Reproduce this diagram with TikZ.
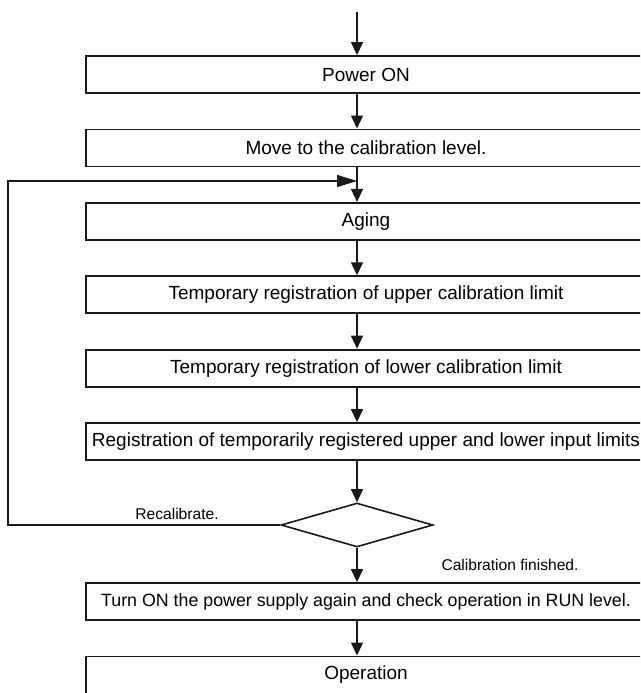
\documentclass[tikz,border=0pt]{standalone}
\usepackage{fontspec}
\setmainfont{Liberation Sans}
\usetikzlibrary{positioning, arrows.meta, shapes.geometric}

\begin{document}
\begin{tikzpicture}[
    x=1pt, y=-1pt,
    >={Triangle[length=13pt, width=12pt]},
    node distance=34.6pt,
    stepbox/.style={draw=black!90, line width=1.8pt, rectangle, minimum width=560pt, minimum height=37pt, inner sep=0pt, font=\fontsize{19}{22}\selectfont},
    decision/.style={draw=black!90, line width=1.6pt, diamond, minimum width=152pt, minimum height=44pt, inner sep=0pt},
    tag/.style={font=\fontsize{15.6}{18}\selectfont},
    flow/.style={draw=black!90, line width=1.3pt, ->},
]

% Frame of the figure (boxes run past the right edge)
\useasboundingbox (0,0) rectangle (640,693);
\clip (0,0) rectangle (640,693);

% Column of the flow line
\coordinate (axis) at (357,0);
\coordinate (start) at (357,12);
\coordinate (merge) at (357,181);
\coordinate (rim) at (8,0);

% Steps
\node[stepbox] (power) at (366,74.5) {Power ON};
\node[stepbox, below=of power] (move) {Move to the calibration level.};
\node[stepbox, below=of move] (aging) {Aging};
\node[stepbox, below=of aging] (upper) {Temporary registration of upper calibration limit};
\node[stepbox, below=of upper] (lower) {Temporary registration of lower calibration limit};
\node[stepbox, below=of lower] (reg) {Registration of temporarily registered upper and lower input limits};

% Decision
\node[decision, below=41.3pt of reg, xshift=-9pt] (check) {};
\node[tag] (recal) at (177,514) {Recalibrate.};
\node[tag] (done) at (510,565) {Calibration finished.};

% Final steps
\node[stepbox, below=34.3pt of check, xshift=9pt, font=\fontsize{17.8}{22}\selectfont] (rerun) {Turn ON the power supply again and check operation in RUN level.};
\node[stepbox, below=of rerun] (op) {Operation};

% Arrows
\draw[flow] (start) -- (power.north -| axis);
\draw[flow] (power.south -| axis) -- (move.north -| axis);
\draw[flow] (move.south -| axis) -- (aging.north -| axis);
\draw[flow] (aging.south -| axis) -- (upper.north -| axis);
\draw[flow] (upper.south -| axis) -- (lower.north -| axis);
\draw[flow] (lower.south -| axis) -- (reg.north -| axis);
\draw[flow] (reg.south -| axis) -- (check.north);
\draw[flow] (check.south) -- (rerun.north -| axis);
\draw[flow] (rerun.south -| axis) -- (op.north -| axis);

% Recalibration loop
\draw[flow, >={Triangle[length=20pt, width=12pt]}] (check.west) -- (check.west -| rim) -- (rim |- merge) -- (merge);

\end{tikzpicture}
\end{document}
